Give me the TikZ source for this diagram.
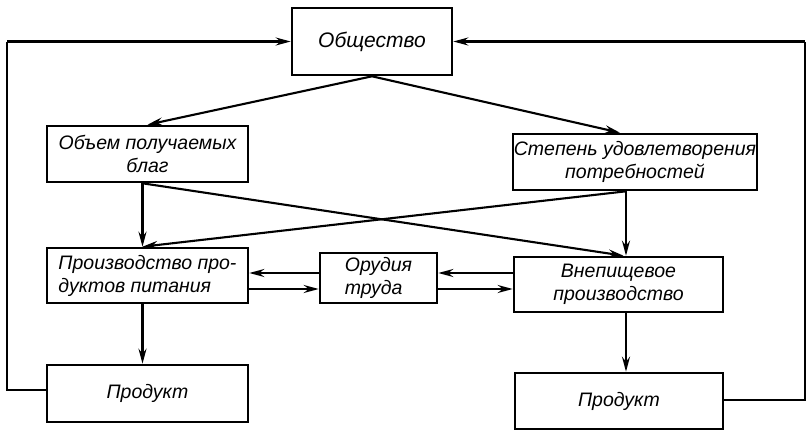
\documentclass[tikz,border=0pt]{standalone}
\usepackage{fontspec}
\setmainfont{Liberation Sans}
\usetikzlibrary{arrows.meta}
\begin{document}
\begin{tikzpicture}[x=1pt,y=-1pt,
    block/.style={draw,line width=2.6pt,inner sep=1pt,font=\itshape\fontsize{19.5}{23}\selectfont},
    link/.style={line width=2.1pt,-{Stealth[length=15pt,width=8pt,inset=5pt]}},
    wire/.style={line width=2.1pt}]
    \useasboundingbox (0,0) rectangle (807,431);
    \node[block,minimum width=160,minimum height=67,font=\itshape\fontsize{21}{26}\selectfont] (obsh) at (372,41.5) {Общество};
    \node[block,minimum width=201,minimum height=56,align=center] (obem) at (147.5,154) {Объем получаемых\\благ};
    \node[block,minimum width=244,minimum height=56,align=center] (stepen) at (635,162) {Степень удовлетворения\\потребностей};
    \node[block,minimum width=201,minimum height=55,align=left] (proizv) at (147.5,275.5) {Производство про-\\дуктов питания};
    \node[block,minimum width=117,minimum height=50,align=left] (orud) at (378.5,278) {Орудия\\труда};
    \node[block,minimum width=209,minimum height=55,align=center] (vnep) at (618.5,284.5) {Внепищевое\\производство};
    \node[block,minimum width=201,minimum height=57] (prod1) at (147.5,393.5) {Продукт};
    \node[block,minimum width=208,minimum height=56] (prod2) at (619,401) {Продукт};
    \coordinate (lcorner) at (7,390);
    \coordinate (rcorner) at (805,400);
    \coordinate (upper) at (0,273);
    \coordinate (lower) at (0,289);
    \draw[link] (obsh.south) -- (obem.north);
    \draw[link] (obsh.south) -- ([xshift=-15pt]stepen.north);
    \draw[link] ([xshift=-5pt]obem.south) -- ([xshift=-5pt]proizv.north);
    \draw[link] ([xshift=-5pt]obem.south) -- ([xshift=5pt]vnep.north);
    \draw[link] ([xshift=-9pt]stepen.south) -- ([xshift=7.5pt]vnep.north);
    \draw[link] ([xshift=-9pt]stepen.south) -- ([xshift=-5pt]proizv.north);
    \draw[link] (orud.west |- upper) -- (proizv.east |- upper);
    \draw[link] (proizv.east |- lower) -- (orud.west |- lower);
    \draw[link] (vnep.west |- upper) -- (orud.east |- upper);
    \draw[link] (orud.east |- lower) -- (vnep.west |- lower);
    \draw[link] ([xshift=-5pt]proizv.south) -- ([xshift=-5pt]prod1.north);
    \draw[link] ([xshift=7.5pt]vnep.south) -- ([xshift=7pt]prod2.north);
    \draw[wire] (prod1.west |- lcorner) -- (lcorner) -- (lcorner |- obsh.west);
    \draw[link] (lcorner |- obsh.west) -- (obsh.west);
    \draw[wire] (prod2.east |- rcorner) -- (rcorner) -- (rcorner |- obsh.east);
    \draw[link] (rcorner |- obsh.east) -- (obsh.east);
\end{tikzpicture}
\end{document}
